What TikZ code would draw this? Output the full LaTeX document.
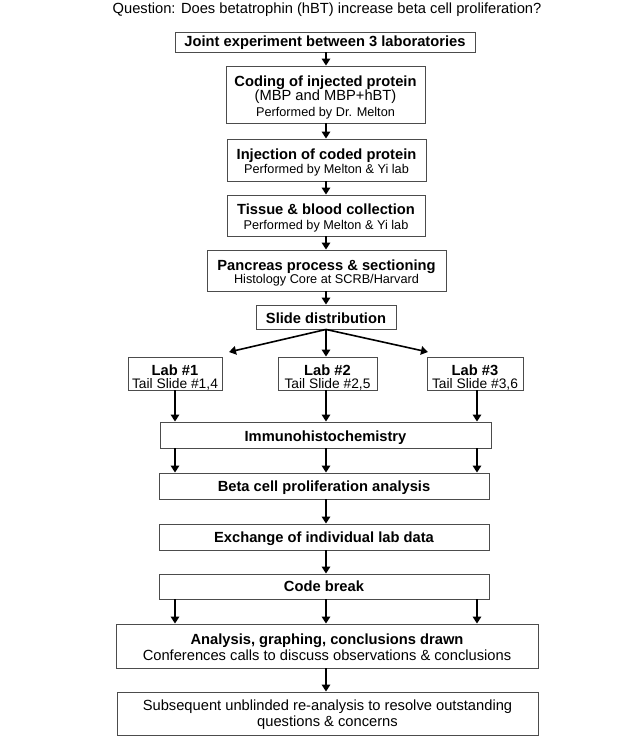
\documentclass[tikz,border=0pt]{standalone}
\usepackage{fontspec}
\setmainfont{Liberation Sans}
\usetikzlibrary{arrows.meta}
\tikzset{
  box/.style={draw=black!70, line width=0.9pt, inner sep=0pt},
  btxt/.style={anchor=base, inner sep=0pt, font=\fontsize{14.7}{14}\selectfont\bfseries},
  rtxt/.style={anchor=base, inner sep=0pt, font=\fontsize{14.7}{14}\selectfont},
  stxt/.style={anchor=base, inner sep=0pt, font=\fontsize{12.7}{14}\selectfont},
  ttxt/.style={anchor=base, inner sep=0pt, font=\fontsize{13.8}{14}\selectfont},
  arr/.style={line width=1.6pt, -{Triangle[length=7pt,width=8.5pt]}},
}
\begin{document}
\begin{tikzpicture}[x=1pt,y=-1pt]
\useasboundingbox (0,0) rectangle (644,737);
\fill[white] (0,0) rectangle (644,737);
\coordinate (cL) at (175,0);
\coordinate (cM) at (326,0);
\coordinate (cR) at (477,0);

\node[rtxt] (title) at (327,13)
  {Question: Does betatrophin (hBT) increase beta cell proliferation?};

% boxes
\node[box, minimum width=300pt, minimum height=20pt] (b1) at (325,42) {};
\node[box, minimum width=199pt, minimum height=57pt] (b2) at (325.5,94.5) {};
\node[box, minimum width=199pt, minimum height=42pt] (b3) at (326.5,160) {};
\node[box, minimum width=198pt, minimum height=41pt] (b4) at (326,215.5) {};
\node[box, minimum width=239pt, minimum height=41pt] (b5) at (326.5,270.5) {};
\node[box, minimum width=140pt, minimum height=24pt] (b6) at (326,317) {};
\node[box, minimum width=94pt, minimum height=33pt] (lab1) at (175,373.5) {};
\node[box, minimum width=99pt, minimum height=33pt] (lab2) at (327.5,373.5) {};
\node[box, minimum width=96pt, minimum height=33pt] (lab3) at (475,373.5) {};
\node[box, minimum width=331pt, minimum height=26pt] (immuno) at (325.5,435) {};
\node[box, minimum width=330pt, minimum height=26pt] (beta) at (324,486) {};
\node[box, minimum width=330pt, minimum height=26pt] (exch) at (324,537) {};
\node[box, minimum width=330pt, minimum height=25pt] (code) at (324,586.5) {};
\node[box, minimum width=422pt, minimum height=44pt] (anal) at (327,646) {};
\node[box, minimum width=421pt, minimum height=43pt] (final) at (327.5,713.5) {};

% texts
\node[btxt] (b1t) at (325,46.8) {Joint experiment between 3 laboratories};
\node[btxt] (b2a) at (325.5,86.6) {Coding of injected protein};
\node[rtxt] (b2b) at (325.5,100.8) {(MBP and MBP+hBT)};
\node[stxt] (b2c) at (325.5,116) {Performed by Dr. Melton};
\node[btxt] (b3a) at (326.5,159) {Injection of coded protein};
\node[stxt] (b3b) at (326.5,173.5) {Performed by Melton \& Yi lab};
\node[btxt] (b4a) at (326,214.6) {Tissue \& blood collection};
\node[stxt] (b4b) at (326,229) {Performed by Melton \& Yi lab};
\node[btxt] (b5a) at (326.5,270) {Pancreas process \& sectioning};
\node[stxt] (b5b) at (326.5,283.5) {Histology Core at SCRB/Harvard};
\node[btxt] (b6t) at (326,323) {Slide distribution};
\node[btxt] (l1a) at (175,375.6) {Lab \#1};
\node[ttxt] (l1b) at (175,388.2) {Tail Slide \#1,4};
\node[btxt] (l2a) at (327.5,375.6) {Lab \#2};
\node[ttxt] (l2b) at (327.5,388.2) {Tail Slide \#2,5};
\node[btxt] (l3a) at (475,375.6) {Lab \#3};
\node[ttxt] (l3b) at (475,388.2) {Tail Slide \#3,6};
\node[btxt] (immt) at (325.5,441.3) {Immunohistochemistry};
\node[btxt] (betat) at (324,491.5) {Beta cell proliferation analysis};
\node[btxt] (excht) at (324,542.2) {Exchange of individual lab data};
\node[btxt] (codet) at (324,591.7) {Code break};
\node[btxt] (anala) at (327,644) {Analysis, graphing, conclusions drawn};
\node[rtxt] (analb) at (327,660.6) {Conferences calls to discuss observations \& conclusions};
\node[rtxt] (fina) at (327.5,710.6) {Subsequent unblinded re-analysis to resolve outstanding};
\node[rtxt] (finb) at (327.5,726.5) {questions \& concerns};

\coordinate (t1) at (229,352);
\coordinate (t3) at (428,352);

\draw[arr] (b1.south -| cM) -- (b2.north -| cM);
\draw[arr] (b2.south -| cM) -- (b3.north -| cM);
\draw[arr] (b3.south -| cM) -- (b4.north -| cM);
\draw[arr] (b4.south -| cM) -- (b5.north -| cM);
\draw[arr] (b5.south -| cM) -- (b6.north -| cM);

\draw[arr] (b6.south -| cM) -- (t1);
\draw[arr] (b6.south -| cM) -- (lab2.north -| cM);
\draw[arr] (b6.south -| cM) -- (t3);

\draw[arr] (lab1.south -| cL) -- (immuno.north -| cL);
\draw[arr] (lab2.south -| cM) -- (immuno.north -| cM);
\draw[arr] (lab3.south -| cR) -- (immuno.north -| cR);

\draw[arr] (immuno.south -| cL) -- (beta.north -| cL);
\draw[arr] (immuno.south -| cM) -- (beta.north -| cM);
\draw[arr] (immuno.south -| cR) -- (beta.north -| cR);

\draw[arr] (beta.south -| cM) -- (exch.north -| cM);
\draw[arr] (exch.south -| cM) -- (code.north -| cM);

\draw[arr] (code.south -| cL) -- (anal.north -| cL);
\draw[arr] (code.south -| cM) -- (anal.north -| cM);
\draw[arr] (code.south -| cR) -- (anal.north -| cR);

\draw[arr] (anal.south -| cM) -- (final.north -| cM);
\end{tikzpicture}
\end{document}
